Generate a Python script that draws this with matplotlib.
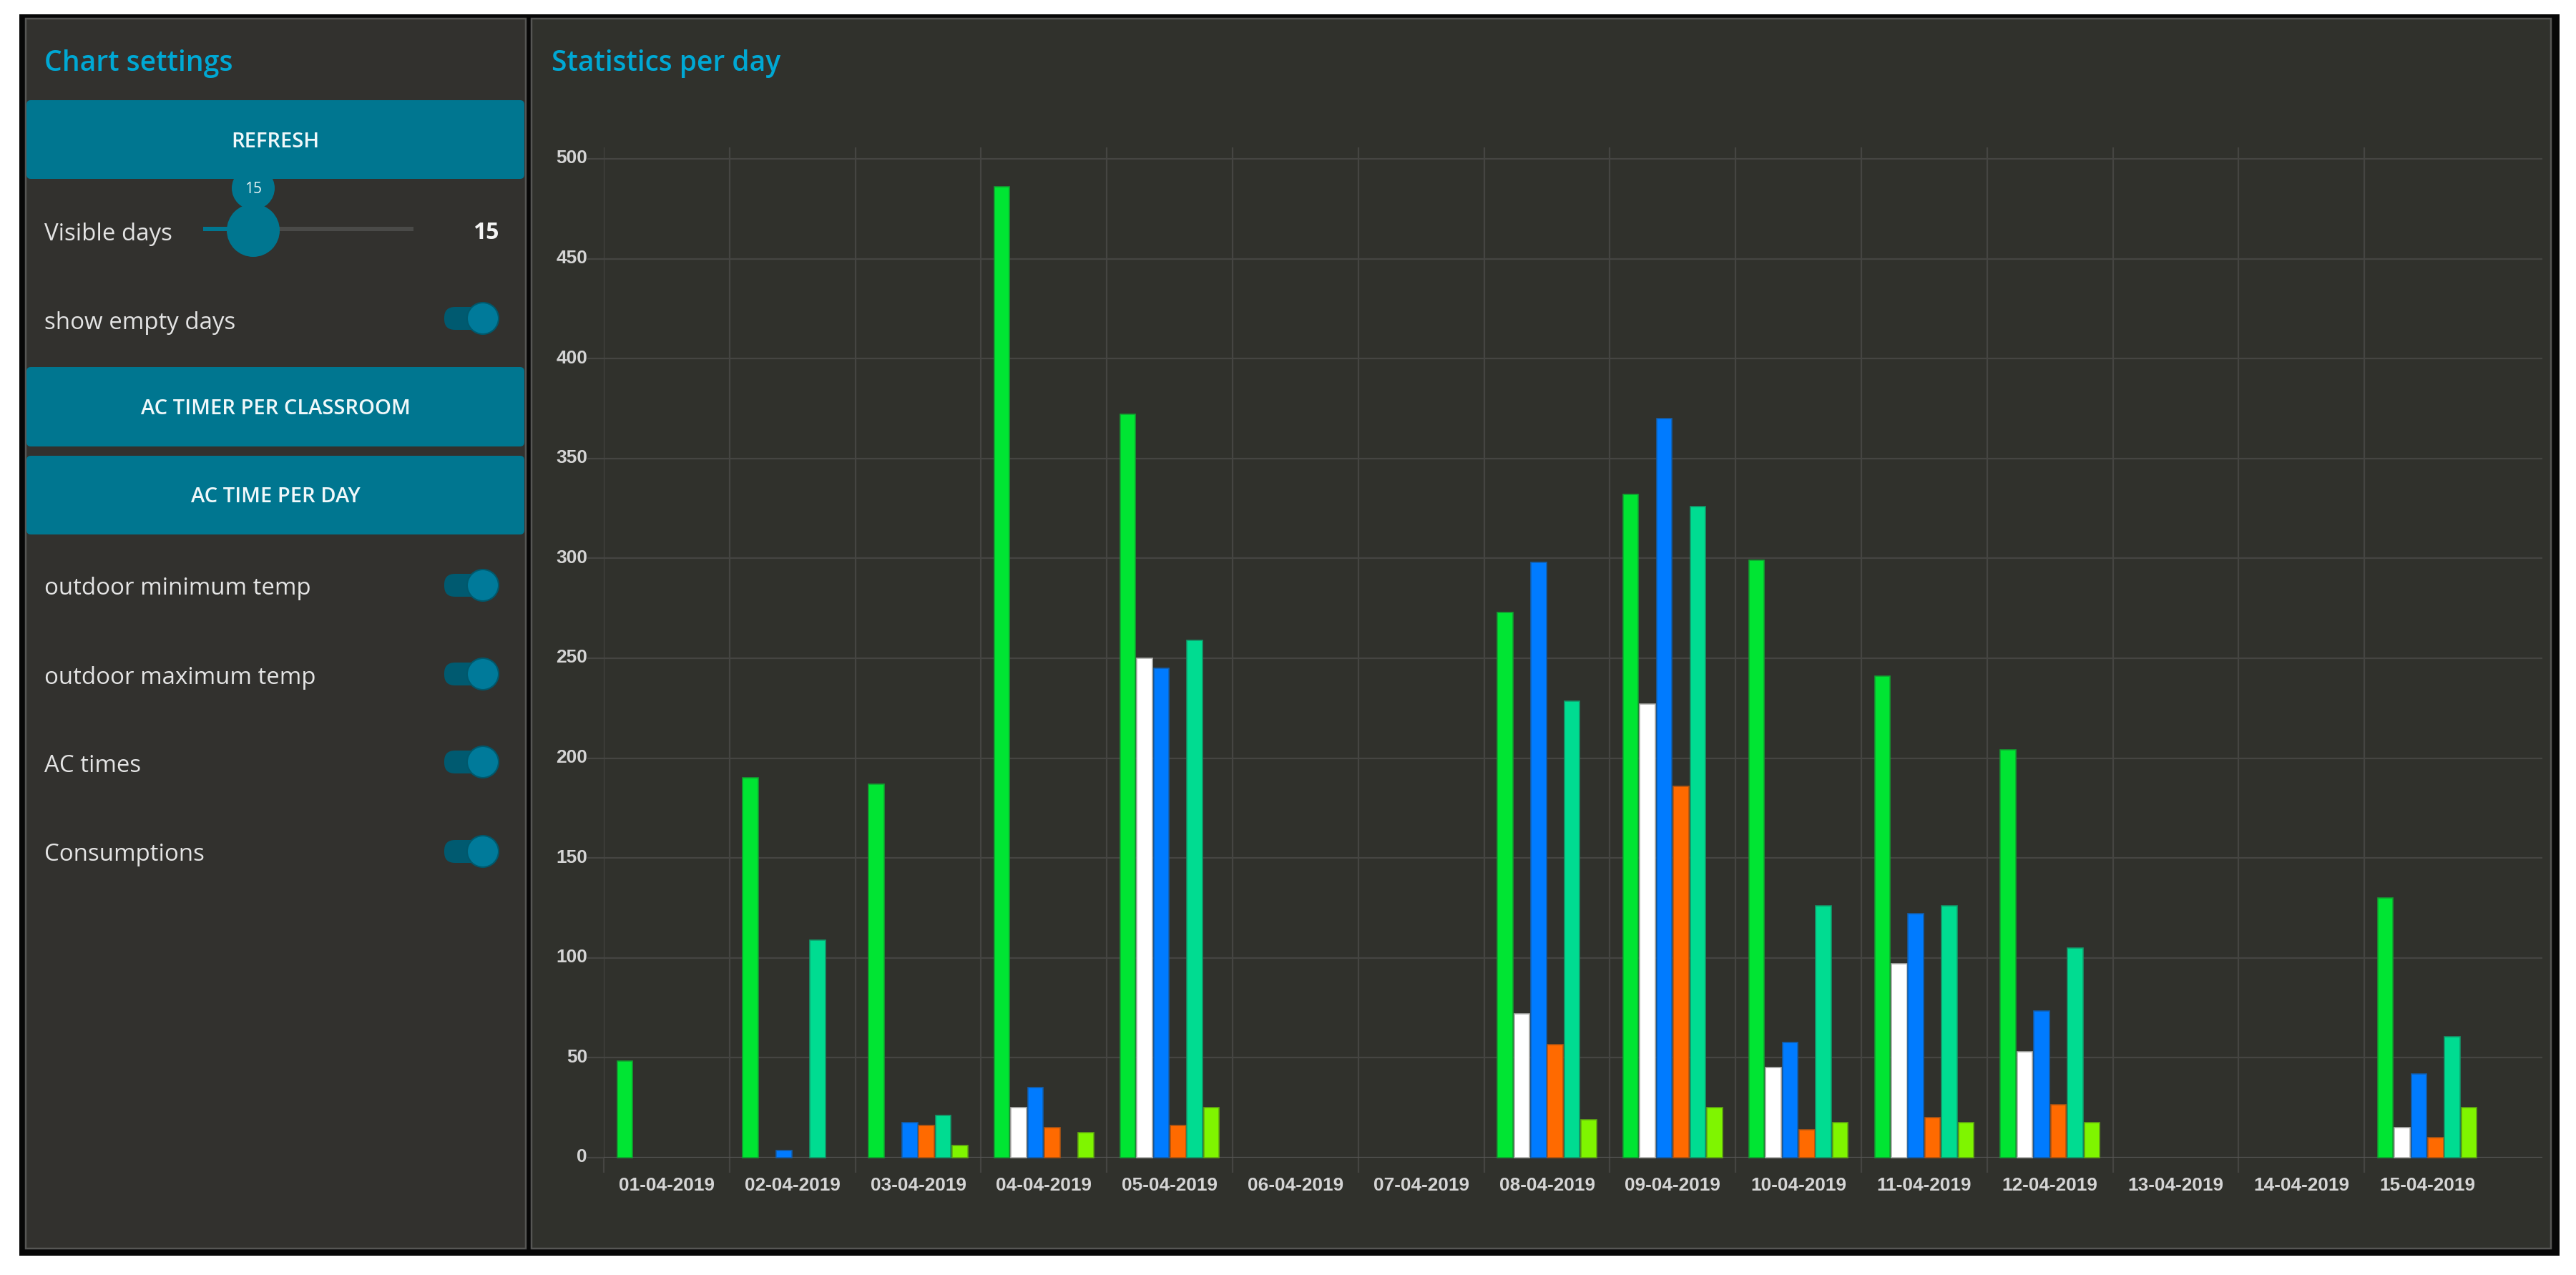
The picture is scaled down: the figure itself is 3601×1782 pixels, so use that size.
"""
Statistics per day dashboard: settings panel on the left, grouped bars on the right.
"""
import matplotlib
matplotlib.use("Agg")
import matplotlib.pyplot as plt
from matplotlib.colors import to_rgb
from matplotlib.patches import Circle, FancyBboxPatch, Rectangle
from matplotlib.transforms import ScaledTranslation
import numpy as np

W, H = 3601, 1783
PT = 72 / 100  # one pixel in points at dpi 100

days = ["01-04-2019", "02-04-2019", "03-04-2019", "04-04-2019", "05-04-2019",
        "06-04-2019", "07-04-2019", "08-04-2019", "09-04-2019", "10-04-2019",
        "11-04-2019", "12-04-2019", "13-04-2019", "14-04-2019", "15-04-2019"]

green_vals = [48.5, 190, 187, 486, 372, 0, 0, 273, 332, 299, 241, 204, 0, 0, 130]
white_vals = [0, 0, 0, 25, 250, 0, 0, 72, 227, 45, 97, 53, 0, 0, 15]
blue_vals = [0, 3.5, 17.5, 35, 245, 0, 0, 298, 370, 57.5, 122, 73.5, 0, 0, 42]
orange_vals = [0, 0, 16, 15, 16, 0, 0, 56.5, 186, 14, 20, 26.5, 0, 0, 10]
teal_vals = [0, 109, 21, 0, 259, 0, 0, 228.5, 326, 126, 126, 105, 0, 0, 60.5]
lime_vals = [0, 0, 6, 12.5, 25, 0, 0, 19, 25, 17.5, 17.5, 17.5, 0, 0, 25]

series = [green_vals, white_vals, blue_vals, orange_vals, teal_vals, lime_vals]
series_colors = ["#00e533", "#ffffff", "#007bff", "#ff6a00", "#00dc91", "#7ff500"]

y_ticks = list(range(0, 501, 50))

toggle_labels = ["show empty days", "outdoor minimum temp", "outdoor maximum temp",
                 "AC times", "Consumptions"]
button_labels = ["REFRESH", "AC TIMER PER CLASSROOM", "AC TIME PER DAY"]

PANEL_LEFT = "#32312e"
PANEL_RIGHT = "#30312c"
EDGE = "#565654"
BUTTON = "#007690"
TITLE = "#00a8d4"
TEXT = "#e4e4e4"
GRID = "#454542"
UI_FONT = ["Open Sans", "DejaVu Sans"]
AXIS_FONT = ["Liberation Sans", "DejaVu Sans"]


def mix(color, amount=0.62):
    c = np.array(to_rgb(color))
    return tuple(c * amount + np.array(to_rgb(PANEL_RIGHT)) * (1 - amount))


fig = plt.figure(figsize=(W / 100, H / 100), dpi=100, facecolor="white")

# ── page furniture, in pixel coordinates ──────────────────────────────────
ui = fig.add_axes([0, 0, 1, 1])
ui.set_xlim(0, W)
ui.set_ylim(H, 0)
ui.axis("off")


def rect(x0, y0, x1, y1, **kw):
    ui.add_patch(Rectangle((x0, y0), x1 - x0, y1 - y0, **kw))


def button(y0, y1, label):
    ui.add_patch(FancyBboxPatch((42, y0 + 5), 686, y1 - y0 - 10,
                                boxstyle="round,pad=5,rounding_size=6",
                                fc=BUTTON, ec="none", zorder=4))
    ui.text(385, (y0 + y1) / 2 + 2, label, color="#f0f8fa", fontsize=21, weight=600,
            family=UI_FONT, ha="center", va="center", zorder=5)


def toggle(y):
    ui.add_patch(FancyBboxPatch((636, y - 1), 34, 2, boxstyle="round,pad=15,rounding_size=15",
                                fc="#005a70", ec="none", zorder=3))
    ui.add_patch(Circle((675, y), 22, fc="#007a9a", ec="#00586c", lw=1.5, zorder=4))


rect(26.5, 21, 3577.5, 1756, fc="#070707", ec="none")
for x0, x1, panel in [(36, 735, PANEL_LEFT), (743, 3566, PANEL_RIGHT)]:
    rect(x0, 27, x1, 1746, fc=panel, ec=EDGE, lw=2.5 * PT)

ui.text(62, 99, "Chart settings", color=TITLE, fontsize=28.2, weight=600, family=UI_FONT, va="baseline")
ui.text(771, 99, "Statistics per day", color=TITLE, fontsize=28, weight=600, family=UI_FONT, va="baseline")

# slider sits below the refresh button, its bubble is cut off by the button
ui.add_patch(Circle((354, 264), 30, fc=BUTTON, ec="none", zorder=2))
ui.text(354, 264, "15", color="#e8f4f6", fontsize=15, family=UI_FONT,
        ha="center", va="center", zorder=5)
rect(284, 318, 354, 324, fc=BUTTON, ec="none", zorder=2)
rect(354, 318, 578, 324, fc="#4a4a48", ec="none", zorder=2)
ui.add_patch(Circle((354, 323), 37, fc=BUTTON, ec="none", zorder=3))
ui.text(62, 327, "Visible days", color=TEXT, fontsize=23.8, family=UI_FONT, va="center")
ui.text(697, 326, "15", color="#f4f4f4", fontsize=23, weight="bold", family=UI_FONT,
        ha="right", va="center")

button(141, 251, button_labels[0])
button(514, 625, button_labels[1])
button(638, 748, button_labels[2])

for label, y_text, y_knob in zip(toggle_labels, [451, 823, 948, 1071, 1195],
                                 [446, 819, 943, 1066, 1191]):
    ui.text(62, y_text, label, color=TEXT, fontsize=23.8, family=UI_FONT, va="center")
    toggle(y_knob)

# ── chart ─────────────────────────────────────────────────────────────────
AX_L, AX_R, AX_T, AX_B = 844, 3554, 207, 1619
ax = fig.add_axes([AX_L / W, 1 - AX_B / H, (AX_R - AX_L) / W, (AX_B - AX_T) / H])
ax.patch.set_alpha(0)
ax.set_xlim(-0.5, -0.5 + (AX_R - AX_L) / 175.8)
ax.set_ylim(0, 505.7)

group_width = 0.8
pitch = group_width / len(series)
centers = np.arange(len(days))
for i, (vals, color) in enumerate(zip(series, series_colors)):
    vals = np.array(vals, dtype=float)
    keep = vals > 0
    offset = (i - (len(series) - 1) / 2) * pitch
    ax.bar(centers[keep] + offset, vals[keep], width=pitch * 0.92, color=color,
           edgecolor=mix(color), linewidth=1.6 * PT, zorder=3, clip_on=False)

ax.set_axisbelow(True)
for side in ax.spines.values():
    side.set_visible(False)

ax.set_yticks(y_ticks)
ax.set_xticks(centers)
ax.set_xticklabels(days)
ax.set_xticks(centers - 0.5, minor=True)
ax.grid(axis="y", color=GRID, linewidth=2.2 * PT)
ax.grid(axis="x", which="minor", color=GRID, linewidth=2.2 * PT)
ax.grid(axis="x", which="major", visible=False)
ax.tick_params(axis="y", length=23 * PT, width=2.2 * PT, color=GRID, pad=0,
               labelsize=19, labelcolor="#d4d4d4")
ax.tick_params(axis="x", which="major", length=0, pad=26 * PT,
               labelsize=18.9, labelcolor="#d4d4d4")
ax.tick_params(axis="x", which="minor", length=21 * PT, width=2.2 * PT, color=GRID)
ax.get_ygridlines()[0].set_color(EDGE)

nudge = ScaledTranslation(0, 4 / 100, fig.dpi_scale_trans)
for label in ax.get_yticklabels():
    label.set_family(AXIS_FONT)
    label.set_weight("bold")
    label.set_transform(label.get_transform() + nudge)
for label in ax.get_xticklabels():
    label.set_family(AXIS_FONT)
    label.set_weight("bold")

fig.savefig("out.png", dpi=100, facecolor="white")
